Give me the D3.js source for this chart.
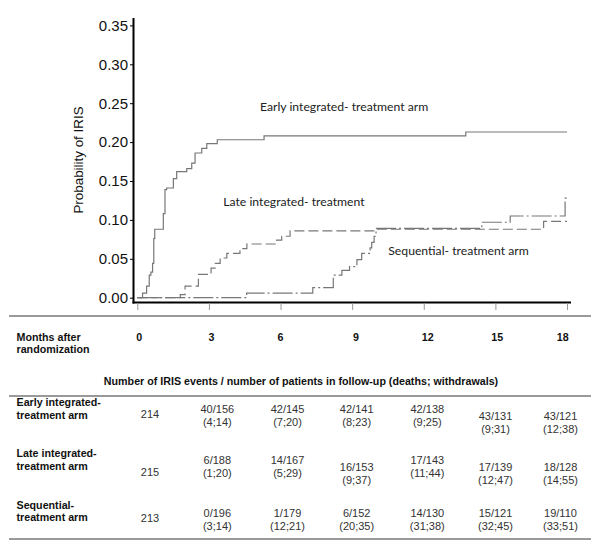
<!DOCTYPE html>
<html>
<head>
<meta charset="utf-8">
<title>Probability of IRIS by arm</title>
<style>
  body { margin: 0; background: #fff; }
  svg { display: block; }
  .tbl { font-family: 'Liberation Sans', Arial, sans-serif; }
  .note { font-family: Lato, 'Open Sans', sans-serif; font-size: 12.2px; fill: #222; }
</style>
</head>
<body>
<svg id="chart" width="600" height="545"></svg>
<script src="https://cdn.jsdelivr.net/npm/d3@7"></script>
<script>
// step curves: month of each step, cumulative probability after it
const earlyT = [0, 0.22, 0.39, 0.50, 0.57, 0.64, 0.69, 0.73, 1.09, 1.16, 1.23, 1.51, 1.65, 2.07, 2.28, 2.42, 2.70, 2.91, 3.35, 5.31, 13.76, 18];
const earlyP = [0, 0.006, 0.015, 0.029, 0.033, 0.044, 0.076, 0.088, 0.108, 0.139, 0.141, 0.153, 0.162, 0.166, 0.173, 0.186, 0.192, 0.198, 0.203, 0.208, 0.213, 0.213];

const lateT = [0, 1.80, 2.00, 2.56, 3.09, 3.26, 3.47, 3.75, 4.30, 4.59, 5.84, 6.05, 6.40, 9.96, 17.02, 18];
const lateP = [0, 0.004, 0.015, 0.030, 0.038, 0.044, 0.051, 0.057, 0.063, 0.069, 0.074, 0.079, 0.086, 0.088, 0.098, 0.098];

const seqT = [0, 4.58, 7.35, 8.21, 8.57, 8.89, 9.20, 9.40, 9.75, 9.82, 9.92, 10.00, 14.43, 15.62, 17.92, 18];
const seqP = [0, 0.006, 0.013, 0.029, 0.035, 0.040, 0.049, 0.057, 0.064, 0.071, 0.079, 0.089, 0.097, 0.105, 0.128, 0.128];

const yTicks = [0, 0.05, 0.10, 0.15, 0.20, 0.25, 0.30, 0.35];
const months = [0, 3, 6, 9, 12, 15, 18];

const armNames = [['Early integrated-', 'treatment arm'], ['Late integrated-', 'treatment arm'], ['Sequential-', 'treatment arm']];
const armN = [214, 215, 213];
const events = [
  ['40/156', '42/145', '42/141', '42/138', '43/131', '43/121'],
  ['6/188', '14/167', '16/153', '17/143', '17/139', '18/128'],
  ['0/196', '1/179', '6/152', '14/130', '15/121', '19/110']
];
const lost = [
  ['(4;14)', '(7;20)', '(8;23)', '(9;25)', '(9;31)', '(12;38)'],
  ['(1;20)', '(5;29)', '(9;37)', '(11;44)', '(12;47)', '(14;55)'],
  ['(3;14)', '(12;21)', '(20;35)', '(31;38)', '(32;45)', '(33;51)']
];

const svg = d3.select('#chart');

const x = d3.scaleLinear().domain([0, 18]).range([137.3, 567]);
const y = d3.scaleLinear().domain([0, 0.35]).range([297.7, 25.4]);

// axes
svg.append('line').attr('x1', 133.5).attr('x2', 133.5).attr('y1', 18).attr('y2', 303.5)
  .attr('stroke', '#000').attr('stroke-width', 2);
svg.append('line').attr('x1', 132.5).attr('x2', 571).attr('y1', 302.5).attr('y2', 302.5)
  .attr('stroke', '#000').attr('stroke-width', 2);

const yAxis = svg.append('g')
  .attr('transform', 'translate(133,0)')
  .call(d3.axisLeft(y).tickValues(yTicks).tickFormat(d3.format('.2f')).tickSize(3).tickPadding(2));
yAxis.select('.domain').remove();
yAxis.selectAll('text').attr('font-family', "'Liberation Sans', Arial, sans-serif")
  .attr('font-size', 15).attr('fill', '#111');
yAxis.selectAll('line').attr('stroke', '#000');

const xAxis = svg.append('g')
  .attr('transform', 'translate(0,303)')
  .call(d3.axisBottom(x).tickValues(months).tickFormat('').tickSize(7));
xAxis.select('.domain').remove();
xAxis.selectAll('line').attr('stroke', '#999').attr('stroke-width', 1);

svg.append('text')
  .attr('transform', 'translate(83,160) rotate(-90)')
  .attr('text-anchor', 'middle')
  .attr('font-family', "'Liberation Sans', Arial, sans-serif")
  .attr('font-size', 13.4).attr('fill', '#111')
  .text('Probability of IRIS');

// curves
const line = d3.line().x(d => x(d[0])).y(d => y(d[1])).curve(d3.curveStepAfter);
const curves = [
  { t: seqT, p: seqP, dash: '20,3,2,3' },
  { t: lateT, p: lateP, dash: '10,4' },
  { t: earlyT, p: earlyP, dash: null }
];
curves.forEach(c => {
  svg.append('path')
    .attr('d', line(d3.zip(c.t, c.p)))
    .attr('fill', 'none')
    .attr('stroke', '#777')
    .attr('stroke-width', 1.2)
    .attr('stroke-dasharray', c.dash);
});

// curve labels
svg.append('text').attr('class', 'note').attr('x', 260).attr('y', 111).text('Early integrated- treatment arm');
svg.append('text').attr('class', 'note').attr('x', 223.3).attr('y', 205.5).text('Late integrated- treatment');
svg.append('text').attr('class', 'note').attr('x', 388.3).attr('y', 255).text('Sequential- treatment arm');

// table below the plot
const tbl = svg.append('g').attr('class', 'tbl');
[316, 396, 539].forEach(yy => {
  tbl.append('line').attr('x1', 9).attr('x2', 591).attr('y1', yy).attr('y2', yy)
    .attr('stroke', '#777').attr('stroke-width', 1.5);
});

tbl.append('text').attr('x', 16.5).attr('y', 337.7).attr('dy', '0.35em')
  .attr('font-size', 10.7).attr('font-weight', 'bold').attr('fill', '#111').text('Months after');
tbl.append('text').attr('x', 16.5).attr('y', 349.5).attr('dy', '0.35em')
  .attr('font-size', 10.7).attr('font-weight', 'bold').attr('fill', '#111').text('randomization');

const monthX = [139.3, 211.5, 280.5, 356, 427.7, 497.3, 562.7];
months.forEach((m, i) => {
  tbl.append('text').attr('x', monthX[i]).attr('y', 337.7).attr('dy', '0.35em')
    .attr('text-anchor', 'middle').attr('font-size', 10.7).attr('font-weight', 'bold')
    .attr('fill', '#111').text(m);
});

tbl.append('text').attr('x', 301).attr('y', 381.7).attr('dy', '0.35em')
  .attr('text-anchor', 'middle').attr('font-size', 10.7).attr('font-weight', 'bold').attr('fill', '#111')
  .text('Number of IRIS events / number of patients in follow-up (deaths; withdrawals)');

// layout of the three arm rows
const rowTop = [402.3, 453.3, 505];
const nY = [414, 471.7, 518.3];
const colX = [217.3, 287.5, 356.7, 427.3, 495.5, 560.5];
const lowered = [[0, 0, 0, 0, 1, 1], [0, 0, 1, 0, 1, 1], [0, 0, 0, 0, 0, 0]];
const cellTop = [409.3, 460, 512.7];

armNames.forEach((name, r) => {
  name.forEach((s, k) => {
    tbl.append('text').attr('x', 16.5).attr('y', rowTop[r] + k * 12.6).attr('dy', '0.35em')
      .attr('font-size', 10.7).attr('font-weight', 'bold').attr('fill', '#111').text(s);
  });
  tbl.append('text').attr('x', 150).attr('y', nY[r]).attr('dy', '0.35em')
    .attr('text-anchor', 'middle').attr('font-size', 11).attr('fill', '#333').text(armN[r]);
  events[r].forEach((ev, c) => {
    const top = cellTop[r] + (lowered[r][c] ? 6.8 : 0);
    tbl.append('text').attr('x', colX[c]).attr('y', top).attr('dy', '0.35em')
      .attr('text-anchor', 'middle').attr('font-size', 11).attr('fill', '#333').text(ev);
    tbl.append('text').attr('x', colX[c]).attr('y', top + 13.3).attr('dy', '0.35em')
      .attr('text-anchor', 'middle').attr('font-size', 11).attr('fill', '#333').text(lost[r][c]);
  });
});
</script>
</body>
</html>
